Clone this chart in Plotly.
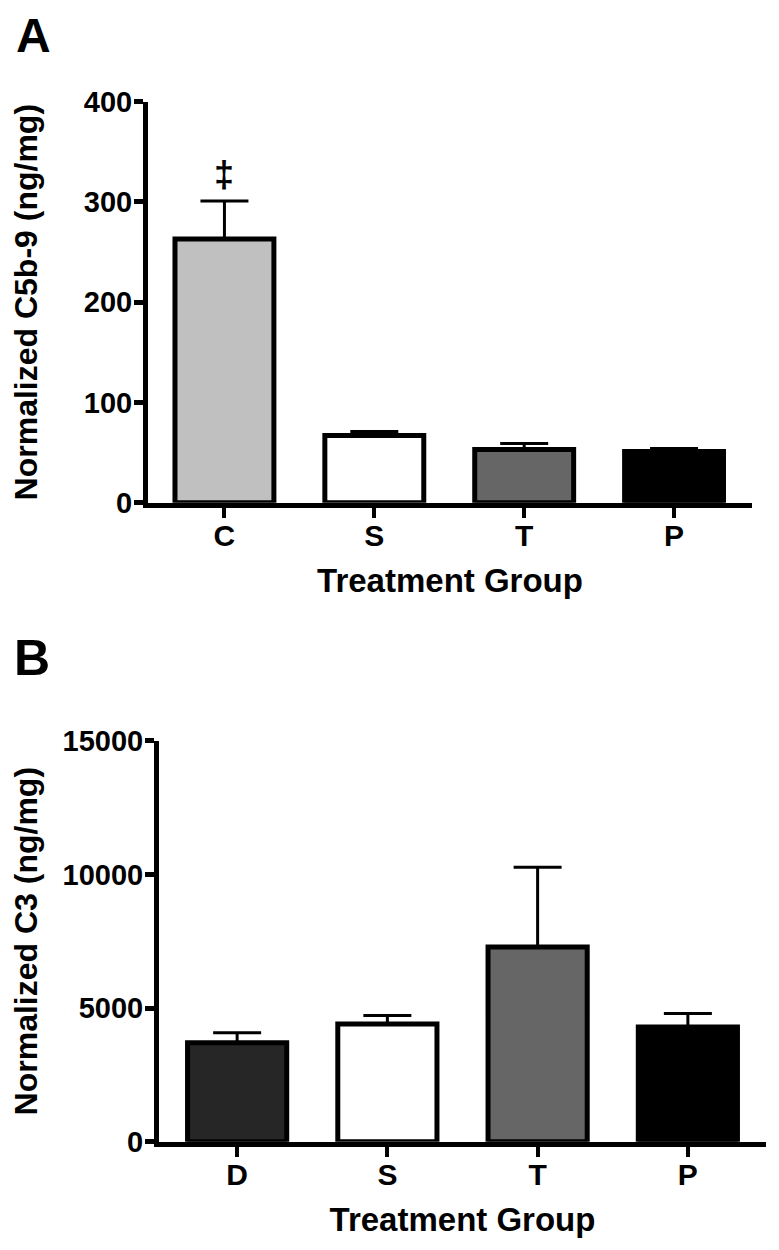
import plotly.graph_objects as go

# Panel A data
cats_a = ["C", "S", "T", "P"]
vals_a = [263, 67, 53, 51]
errs_a = [38, 4, 6, 3]
colors_a = ["#c0c0c0", "#ffffff", "#666666", "#000000"]
sig_a = ["‡", "", "", ""]
yticks_a = [0, 100, 200, 300, 400]

# Panel B data
cats_b = ["D", "S", "T", "P"]
vals_b = [3700, 4400, 7280, 4290]
errs_b = [380, 320, 2990, 510]
colors_b = ["#262626", "#ffffff", "#666666", "#000000"]
yticks_b = [0, 5000, 10000, 15000]

FONT = "Liberation Sans, Arial, sans-serif"
W, H = 771, 1242  # page body has an 8px margin inside the 779x1250 window


def px_x(X):
    return (X - 8) / W


def px_y(Y):
    return 1 - (Y - 8) / H


fig = go.Figure()


def add_bars(cats, vals, errs, colors, xa, ya):
    fig.add_trace(go.Bar(
        x=cats, y=vals, xaxis=xa, yaxis=ya,
        width=0.66,
        marker=dict(color=colors, line=dict(color="black", width=5)),
        error_y=dict(type="data", symmetric=False, array=errs,
                     arrayminus=[0] * len(errs),
                     color="black", thickness=3, width=24),
        showlegend=False,
    ))


add_bars(cats_a, vals_a, errs_a, colors_a, "x", "y")
add_bars(cats_b, vals_b, errs_b, colors_b, "x2", "y2")

# significance markers
for c, v, e, s in zip(cats_a, vals_a, errs_a, sig_a):
    if s:
        fig.add_annotation(x=c, y=v + e, xref="x", yref="y", text=s,
                           showarrow=False, yanchor="bottom", yshift=4,
                           font=dict(family=FONT, size=36, color="black", weight="bold"))

xaxis_common = dict(
    type="category", range=[-0.51, 3.52], automargin=False,
    showline=True, linewidth=5, linecolor="black",
    ticks="outside", ticklen=10, tickwidth=4, tickcolor="black",
    ticklabelstandoff=-8,
    showgrid=False, zeroline=False,
    tickfont=dict(family=FONT, size=30, color="black", weight="bold"),
    title=dict(text="Treatment Group", standoff=20,
               font=dict(family=FONT, size=33, color="black", weight="bold")),
)
yaxis_common = dict(
    automargin=False, tickformat="d",
    showline=True, linewidth=5, linecolor="black",
    ticks="outside", ticklen=9, tickwidth=5, tickcolor="black",
    ticklabelstandoff=-4,
    showgrid=False, zeroline=False,
    tickfont=dict(family=FONT, size=29, color="black", weight="bold"),
)

fig.update_layout(
    template="none",
    width=W, height=H, autosize=False,
    margin=dict(l=0, r=0, t=0, b=0, pad=0),
    paper_bgcolor="white", plot_bgcolor="white",
    xaxis=dict(xaxis_common, domain=[px_x(148), px_x(752)], anchor="y"),
    yaxis=dict(yaxis_common, domain=[px_y(502.7), px_y(101.7)], anchor="x",
               range=[0, 400], tickvals=yticks_a,
               title=dict(text="Normalized C5b-9 (ng/mg)", standoff=38,
                          font=dict(family=FONT, size=32, color="black", weight="bold"))),
    xaxis2=dict(xaxis_common, domain=[px_x(159), px_x(766)], anchor="y2",
                range=[-0.52, 3.52]),
    yaxis2=dict(yaxis_common, domain=[px_y(1141.7), px_y(740.7)], anchor="x2",
                range=[0, 15000], tickvals=yticks_b,
                title=dict(text="Normalized C3 (ng/mg)", standoff=18,
                           font=dict(family=FONT, size=32, color="black", weight="bold"))),
)

# panel letters
fig.add_annotation(x=px_x(15), y=1, xref="paper", yref="paper",
                   text="A", showarrow=False, xanchor="left", yanchor="top",
                   borderpad=0,
                   font=dict(family=FONT, size=48, color="black", weight="bold"))
fig.add_annotation(x=px_x(12), y=px_y(628), xref="paper", yref="paper",
                   text="B", showarrow=False, xanchor="left", yanchor="top",
                   font=dict(family=FONT, size=50, color="black", weight="bold"))

fig.write_html("out.html")
